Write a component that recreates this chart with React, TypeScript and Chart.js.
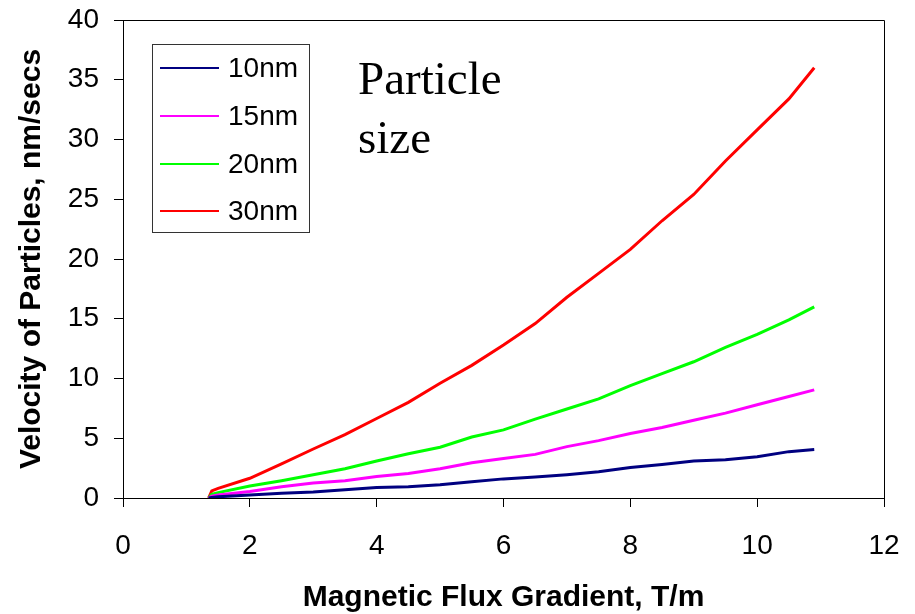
import React, { useEffect, useRef } from "react";
import { Chart, registerables } from "chart.js";

Chart.register(...registerables);

// Magnetic flux gradient (T/m)
const gradient = [1.35, 1.4, 1.5, 2, 2.5, 3, 3.5, 4, 4.5, 5, 5.5, 6, 6.5, 7, 7.5, 8, 8.5, 9, 9.5, 10, 10.5, 10.9];
// Velocity of particles (nm/secs)
const v10nm = [0, 0.05, 0.1, 0.25, 0.4, 0.5, 0.7, 0.87, 0.95, 1.1, 1.35, 1.6, 1.75, 1.95, 2.2, 2.55, 2.8, 3.1, 3.2, 3.45, 3.88, 4.05];
const v15nm = [0, 0.15, 0.25, 0.55, 0.95, 1.25, 1.45, 1.8, 2.05, 2.45, 2.95, 3.3, 3.65, 4.3, 4.8, 5.4, 5.9, 6.5, 7.1, 7.8, 8.5, 9.05];
const v20nm = [0, 0.3, 0.45, 1.0, 1.45, 1.95, 2.45, 3.1, 3.7, 4.25, 5.1, 5.7, 6.6, 7.45, 8.3, 9.4, 10.4, 11.4, 12.6, 13.7, 14.9, 16.0];
const v30nm = [0, 0.6, 0.8, 1.65, 2.85, 4.1, 5.3, 6.65, 8.0, 9.6, 11.1, 12.8, 14.6, 16.8, 18.8, 20.8, 23.2, 25.4, 28.2, 30.8, 33.4, 36.0];

const seriesLabels = ["10nm", "15nm", "20nm", "30nm"];
const seriesColors = ["#000080", "#FF00FF", "#00FF00", "#FF0000"];
const seriesValues = [v10nm, v15nm, v20nm, v30nm];

const xTitle = "Magnetic Flux Gradient, T/m";
const yTitle = "Velocity of Particles, nm/secs";
const noteLines = ["Particle", "size"];

const SANS = "'Liberation Sans', Arial, sans-serif";
const SERIF = "'Liberation Serif', 'Times New Roman', serif";

export default function App() {
  const ref = useRef<HTMLCanvasElement>(null);

  useEffect(() => {
    if (!ref.current) return;

    const framePlugin = {
      id: "frame",
      afterDatasetsDraw(chart: any) {
        const { ctx, chartArea } = chart;
        ctx.save();
        ctx.strokeStyle = "#000";
        ctx.lineWidth = 1;
        ctx.beginPath();
        ctx.moveTo(Math.round(chartArea.left) + 0.5, Math.round(chartArea.top) + 0.5);
        ctx.lineTo(Math.round(chartArea.right) + 0.5, Math.round(chartArea.top) + 0.5);
        ctx.lineTo(Math.round(chartArea.right) + 0.5, Math.round(chartArea.bottom) + 0.5);
        ctx.stroke();

        // legend box
        const bx = 152, by = 44, bw = 157, bh = 188;
        ctx.strokeStyle = "#333";
        ctx.strokeRect(bx + 0.5, by + 0.5, bw, bh);
        const rows = [68, 116, 164, 211];
        ctx.font = `28px ${SANS}`;
        ctx.textBaseline = "middle";
        ctx.textAlign = "left";
        chart.data.datasets.forEach((ds: any, i: number) => {
          ctx.strokeStyle = ds.borderColor;
          ctx.lineWidth = 2;
          ctx.beginPath();
          ctx.moveTo(160, rows[i]);
          ctx.lineTo(219, rows[i]);
          ctx.stroke();
          ctx.fillStyle = "#000";
          ctx.fillText(ds.label, 228, rows[i] + 1);
        });

        // annotation text
        ctx.font = `47px ${SERIF}`;
        ctx.textBaseline = "alphabetic";
        ctx.fillStyle = "#000";
        ctx.fillText(noteLines[0], 358, 94);
        ctx.fillText(noteLines[1], 358, 153);
        ctx.restore();
      },
    };

    const chart = new Chart(ref.current, {
      type: "line",
      data: {
        datasets: seriesLabels.map((label, i) => ({
          label,
          data: gradient.map((x, j) => ({ x, y: seriesValues[i][j] })),
          borderColor: seriesColors[i],
          backgroundColor: seriesColors[i],
          borderWidth: 3,
          pointRadius: 0,
          tension: 0,
          fill: false,
        })),
      },
      options: {
        animation: false,
        responsive: false,
        devicePixelRatio: 1,
        layout: { padding: { left: 14, top: 20, right: 31, bottom: 0 } },
        plugins: {
          legend: { display: false },
          tooltip: { enabled: false },
        },
        scales: {
          x: {
            type: "linear",
            min: 0,
            max: 12,
            afterFit: (s: any) => {
              s.height = 116;
              s.paddingLeft = 0;
              s.paddingRight = 0;
            },
            ticks: {
              stepSize: 2,
              color: "#000",
              font: { family: SANS, size: 28 },
              padding: 22,
              maxRotation: 0,
            },
            grid: {
              drawOnChartArea: false,
              drawTicks: true,
              tickLength: 9,
              color: "#000",
            },
            border: { display: true, color: "#000", width: 1 },
            title: {
              display: true,
              text: xTitle,
              color: "#000",
              font: { family: SANS, size: 30, weight: "bold", lineHeight: 1.1 },
              padding: { top: 0, bottom: 0 },
            },
          },
          y: {
            type: "linear",
            min: 0,
            max: 40,
            afterFit: (s: any) => {
              s.width = 109;
              s.paddingTop = 0;
              s.paddingBottom = 0;
            },
            ticks: {
              stepSize: 5,
              color: "#000",
              font: { family: SANS, size: 28 },
              padding: 15,
            },
            grid: {
              drawOnChartArea: false,
              drawTicks: true,
              tickLength: 9,
              color: "#000",
            },
            border: { display: true, color: "#000", width: 1 },
            title: {
              display: true,
              text: yTitle,
              color: "#000",
              font: { family: SANS, size: 30, weight: "bold", lineHeight: 1.2 },
              padding: { top: 0, bottom: 0 },
            },
          },
        },
      },
      plugins: [framePlugin],
    } as any);

    return () => chart.destroy();
  }, []);

  return (
    <div style={{ position: "absolute", left: 0, top: 0, width: 915, height: 614, background: "#fff" }}>
      <canvas ref={ref} width={915} height={614} style={{ width: 915, height: 614, display: "block" }} />
    </div>
  );
}
